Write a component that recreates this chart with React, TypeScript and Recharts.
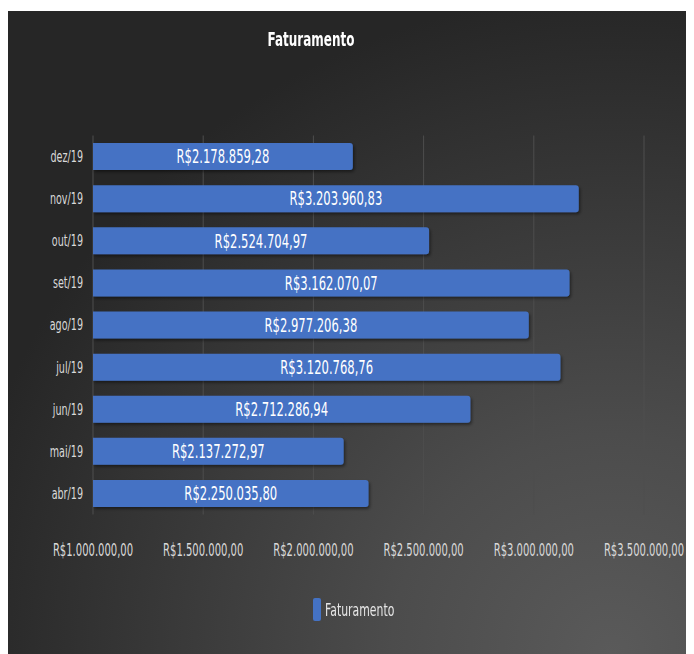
import React from "react";
import { BarChart, Bar, XAxis, YAxis, CartesianGrid, LabelList } from "recharts";

const months = ["abr/19", "mai/19", "jun/19", "jul/19", "ago/19", "set/19", "out/19", "nov/19", "dez/19"];
const faturamento = [2250035.8, 2137272.97, 2712286.94, 3120768.76, 2977206.38, 3162070.07, 2524704.97, 3203960.83, 2178859.28];
const xTicks = [1000000, 1500000, 2000000, 2500000, 3000000, 3500000];

const data = months.map((m, i) => ({ month: m, Faturamento: faturamento[i] }));

const FONT = "'DejaVu Sans', sans-serif";

function brl(v: number): string {
  const [int, dec] = Number(v).toFixed(2).split(".");
  const withDots = int.replace(/\B(?=(\d{3})+(?!\d))/g, ".");
  return "R$" + withDots + "," + dec;
}

const XTick = (props: any) => {
  const { x, y, payload } = props;
  return (
    <text
      transform={`translate(${x},${y}) scale(0.59,1)`}
      textAnchor="middle"
      dominantBaseline="central"
      fill="#d9d9d9"
      fontSize={17}
      fontFamily={FONT}
    >
      {brl(payload.value)}
    </text>
  );
};

const YTick = (props: any) => {
  const { x, y, payload } = props;
  return (
    <text
      transform={`translate(${Number(x) - 2},${y}) scale(0.6,1)`}
      textAnchor="end"
      dominantBaseline="central"
      fill="#d9d9d9"
      fontSize={16}
      fontFamily={FONT}
    >
      {payload.value}
    </text>
  );
};

const BarLabel = (props: any) => {
  const { x, y, width, height, value } = props;
  const cx = Number(x) + Number(width) / 2;
  const cy = Number(y) + Number(height) / 2;
  return (
    <text
      transform={`translate(${cx},${cy}) scale(0.58,1)`}
      textAnchor="middle"
      dominantBaseline="central"
      fill="#ffffff"
      fontSize={20}
      fontFamily={FONT}
    >
      {brl(Number(value))}
    </text>
  );
};

export default function App() {
  return (
    <div
      style={{
        position: "relative",
        marginTop: 3,
        width: 686,
        height: 643,
        background: "radial-gradient(circle at 88% 100%, #5a5a5a 0px, #4c4c4c 220px, #262626 660px)",
        overflow: "hidden",
      }}
    >
      <div
        style={{
          position: "absolute",
          left: 203,
          width: 200,
          top: 16,
          textAlign: "center",
          fontFamily: FONT,
          fontWeight: "bold",
          fontSize: 20,
          color: "#ffffff",
          transform: `scaleX(0.6)`,
          transformOrigin: "center",
          whiteSpace: "nowrap",
        }}
      >
        Faturamento
      </div>
      <BarChart
        width={686}
        height={643}
        data={data}
        layout="vertical"
        margin={{ top: 124.5, right: 50, bottom: 0, left: 0 }}
        barCategoryGap="18%"
        style={{ position: "absolute", left: 0, top: 0 }}
      >
        <defs>
          <filter id="barShadow" x="-5%" y="-20%" width="115%" height="160%">
            <feDropShadow dx="1.5" dy="2" stdDeviation="1.5" floodColor="#000" floodOpacity="0.45" />
          </filter>
        </defs>
        <CartesianGrid horizontal={false} vertical={true} stroke="#4e4e4e" strokeWidth={1} />
        <XAxis
          type="number"
          domain={[1000000, 3500000]}
          ticks={xTicks}
          axisLine={false}
          tickLine={false}
          tickSize={0}
          tickMargin={35.5}
          height={139.5}
          interval={0}
          tick={<XTick />}
        />
        <YAxis
          type="category"
          dataKey="month"
          reversed
          width={85}
          axisLine={false}
          tickLine={false}
          tick={<YTick />}
        />
        <Bar
          dataKey="Faturamento"
          fill="#4472C4"
          radius={[0, 3, 3, 0]}
          isAnimationActive={false}
          style={{ filter: "url(#barShadow)" }}
        >
          <LabelList dataKey="Faturamento" content={<BarLabel />} />
        </Bar>
      </BarChart>
      <div
        style={{
          position: "absolute",
          left: 305,
          top: 587,
          width: 8,
          height: 23,
          background: "#4472C4",
          borderRadius: 2,
        }}
      />
      <div
        style={{
          position: "absolute",
          left: 317,
          top: 588,
          height: 23,
          lineHeight: "23px",
          fontFamily: FONT,
          fontSize: 17,
          color: "#e6e6e6",
          transform: "scaleX(0.64)",
          transformOrigin: "left center",
          whiteSpace: "nowrap",
        }}
      >
        Faturamento
      </div>
    </div>
  );
}
